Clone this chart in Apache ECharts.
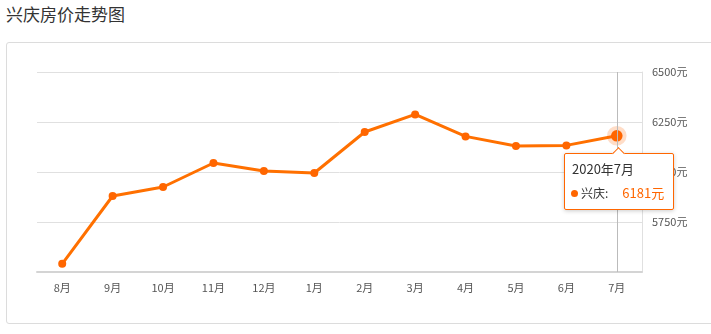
<!DOCTYPE html>
<html>
<head>
<meta charset="utf-8">
<script src="https://cdn.jsdelivr.net/npm/echarts@6/dist/echarts.min.js"></script>
<style>
  html,body{margin:0;padding:0;width:711px;height:334px;background:#fff;overflow:hidden;font-family:"Noto Sans CJK SC","Noto Sans",sans-serif;}
  #title{position:absolute;left:6px;top:2px;font-size:17px;color:#333;line-height:24px;}
  #panel{position:absolute;left:6px;top:42px;width:720px;height:280px;border:1px solid #dcdcdc;border-radius:3px;}
  #chart{position:absolute;left:0;top:0;width:711px;height:334px;}
</style>
</head>
<body>
<div id="title">兴庆房价走势图</div>
<div id="panel"></div>
<div id="chart"></div>
<script>
const months = ['8月','9月','10月','11月','12月','1月','2月','3月','4月','5月','6月','7月'];
const tipLabels = ['2019年8月','2019年9月','2019年10月','2019年11月','2019年12月','2020年1月','2020年2月','2020年3月','2020年4月','2020年5月','2020年6月','2020年7月'];
const prices = [5541, 5880, 5925, 6045, 6005, 5995, 6200, 6288, 6178, 6130, 6133, 6181];
const seriesName = '兴庆';
const yMin = 5500, yMax = 6500, yStep = 250;

const chart = echarts.init(document.getElementById('chart'), null, {renderer:'canvas'});
const orange = '#ff6600';
chart.setOption({
  animation: false,
  textStyle: {fontFamily: '"Noto Sans CJK SC","Noto Sans",sans-serif'},
  grid: {left: 37, right: 69, top: 72, bottom: 62, containLabel: false},
  tooltip: {
    trigger: 'axis',
    triggerOn: 'none',
    alwaysShowContent: true,
    backgroundColor: '#fff',
    borderColor: orange,
    borderWidth: 1,
    padding: 0,
    transitionDuration: 0,
    extraCssText: 'box-shadow:0 1px 4px rgba(0,0,0,0.2);border-radius:2px;overflow:visible;',
    axisPointer: {type: 'line', lineStyle: {color: '#bbb', width: 1, type: 'solid'}},
    position: function (point) { return [point[0] - 53, point[1] + 17]; },
    formatter: function (params) {
      const p = params[0];
      return '<div style="position:relative;width:108px;height:55px;font-family:Noto Sans CJK SC,sans-serif;">' +
        '<div style="position:absolute;left:49px;top:-5px;width:8px;height:8px;background:#fff;border-left:1px solid ' + orange + ';border-top:1px solid ' + orange + ';transform:rotate(45deg);"></div>' +
        '<div style="position:absolute;left:7px;top:6px;font-size:13px;color:#333;line-height:18px;">' + tipLabels[p.dataIndex] + '</div>' +
        '<div style="position:absolute;left:6px;top:30px;font-size:12px;color:#333;line-height:18px;white-space:nowrap;">' +
        '<span style="display:inline-block;width:7px;height:7px;border-radius:50%;background:' + orange + ';margin-right:3px;vertical-align:1px;"></span>' +
        p.seriesName + ':' +
        '<span style="color:' + orange + ';font-size:13px;margin-left:14px;">' + p.value + '元</span></div>' +
        '</div>';
    }
  },
  xAxis: {
    type: 'category',
    data: months,
    boundaryGap: true,
    axisLine: {lineStyle: {color: '#d4d4d4', width: 2}},
    axisTick: {alignWithLabel: true, length: 4, lineStyle: {color: '#d4d4d4'}},
    axisLabel: {color: '#555', fontSize: 11, margin: 10},
    splitLine: {show: false}
  },
  yAxis: {
    type: 'value',
    position: 'right',
    min: yMin, max: yMax, interval: yStep,
    axisLine: {show: true, lineStyle: {color: '#e0e0e0', width: 1}},
    axisTick: {show: false},
    axisLabel: {color: '#555', fontSize: 11, margin: 10, showMinLabel: false, formatter: function (v) { return String(v) + '元'; }},
    splitLine: {lineStyle: {color: '#e0e0e0', width: 1}}
  },
  series: [{
    name: seriesName,
    type: 'line',
    data: prices,
    symbol: 'circle',
    symbolSize: 8,
    lineStyle: {color: orange, width: 3},
    itemStyle: {color: orange},
    emphasis: {
      scale: 1.45,
      itemStyle: {color: orange, borderColor: 'rgba(255,102,0,0.22)', borderWidth: 8}
    }
  }]
});
chart.dispatchAction({type: 'showTip', seriesIndex: 0, dataIndex: prices.length - 1});
</script>
</body>
</html>
